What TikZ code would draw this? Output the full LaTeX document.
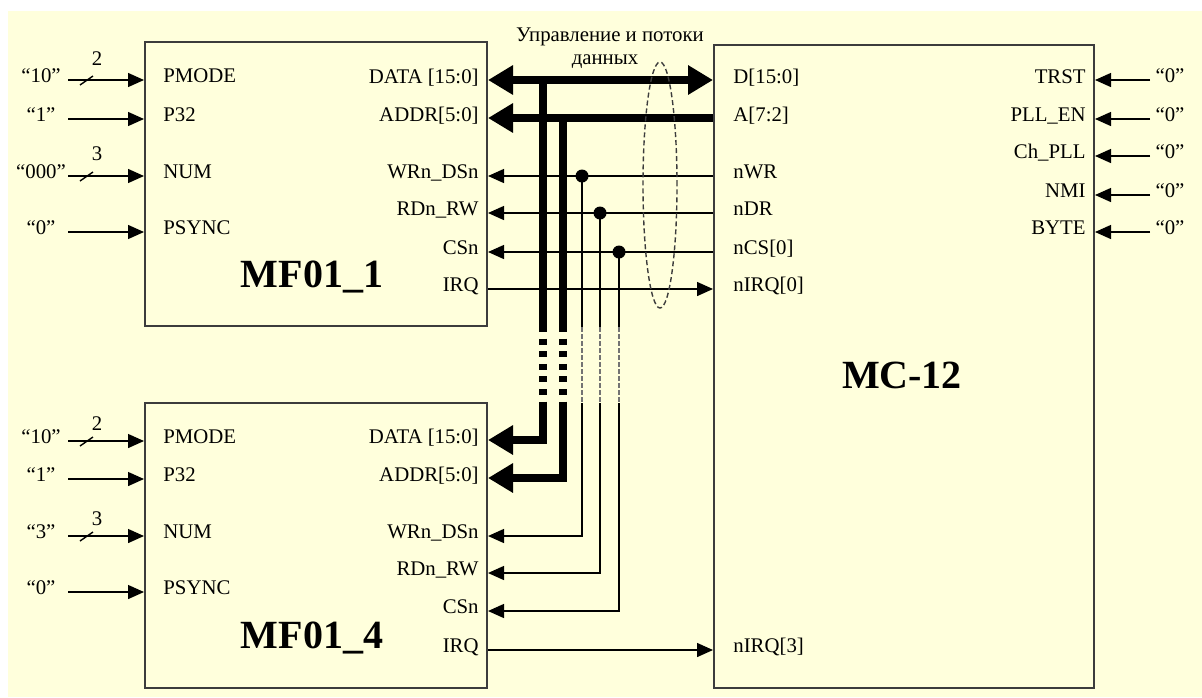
\documentclass[tikz,border=0pt]{standalone}
\usepackage{fontspec}
\setmainfont{Liberation Serif}
\usetikzlibrary{arrows.meta, calc, positioning}
\definecolor{paper}{RGB}{255,255,220}
\definecolor{frame}{RGB}{60,60,60}

\begin{document}
\begin{tikzpicture}[x=0.5pt, y=-0.5pt, font=\fontsize{10.4}{12}\selectfont,
  bigtip/.tip={Triangle[length=12.5pt, width=14pt]},
  smalltip/.tip={Triangle[length=8pt, width=7pt]},
  block/.style={draw=frame, line width=1pt, inner sep=0pt},
  title/.style={font=\fontsize{20}{24}\selectfont\bfseries, anchor=base, inner sep=0pt},
  pinl/.style={anchor=base west, inner sep=0pt},
  pinr/.style={anchor=base east, inner sep=0pt},
  val/.style={anchor=base, inner sep=0pt},
  wire/.style={line width=0.7pt},
  sig/.style={wire, -smalltip},
  bus/.style={line width=4pt},
  gap/.style={dash pattern=on 3pt off 3.3pt, dash phase=3pt},
  thingap/.style={wire, black!55, dash pattern=on 2.5pt off 1pt},
  dot/.style={circle, fill, inner sep=0pt, minimum size=6.5pt}]
  % sheet
  \fill[white] (0,0) rectangle (1202,697);
  \fill[paper] (8,11) rectangle (1202,697);
  \useasboundingbox (0,0) rectangle (1202,697);
  % blocks
  \node[block, minimum width=171pt, minimum height=142pt] (mf1) at (316,184) {};
  \node[block, minimum width=171pt, minimum height=142.5pt] (mf4) at (316,545.5) {};
  \node[block, minimum width=190pt, minimum height=321.5pt] (mc) at (904,366.5) {};
  \node[title] (t1) at (312,287) {MF01\_1};
  \node[title] (t4) at (312,648) {MF01\_4};
  \node[title] (tmc) at (902,388) {MC-12};
  % MF01_1 inputs
  \node[pinl] (a1) at (163,82) {PMODE};
  \node[pinl] (a2) at (163,121) {P32};
  \node[pinl] (a3) at (163,178) {NUM};
  \node[pinl] (a4) at (163,234) {PSYNC};
  \node[val] (va1) at (41,82) {“10”};
  \node[val] (va2) at (41,121) {“1”};
  \node[val] (va3) at (41,178) {“000”};
  \node[val] (va4) at (41,234) {“0”};
  \coordinate (ia1) at (68,80);
  \coordinate (ia2) at (68,119);
  \coordinate (ia3) at (68,176);
  \coordinate (ia4) at (68,232);
  \foreach \i in {ia1,ia2,ia3,ia4}
    \draw[sig] (\i) -- (mf1.west |- \i);
  \draw[wire] (80,85) -- (93,76);
  \draw[wire] (80,181) -- (93,172);
  \node[val] (wa1) at (97,65) {2};
  \node[val] (wa3) at (97,160) {3};
  % MF01_4 inputs
  \node[pinl] (b1) at (163,443) {PMODE};
  \node[pinl] (b2) at (163,481) {P32};
  \node[pinl] (b3) at (163,538) {NUM};
  \node[pinl] (b4) at (163,594) {PSYNC};
  \node[val] (vb1) at (41,443) {“10”};
  \node[val] (vb2) at (41,481) {“1”};
  \node[val] (vb3) at (41,538) {“3”};
  \node[val] (vb4) at (41,594) {“0”};
  \coordinate (ib1) at (68,441);
  \coordinate (ib2) at (68,479);
  \coordinate (ib3) at (68,536);
  \coordinate (ib4) at (68,592);
  \foreach \i in {ib1,ib2,ib3,ib4}
    \draw[sig] (\i) -- (mf4.west |- \i);
  \draw[wire] (80,446) -- (93,437);
  \draw[wire] (80,541) -- (93,532);
  \node[val] (wb1) at (97,430) {2};
  \node[val] (wb3) at (97,525) {3};
  % MF01 outputs
  \node[pinr] (c1) at (479,83) {DATA [15:0]};
  \node[pinr] (c2) at (479,121) {ADDR[5:0]};
  \node[pinr] (c3) at (479,178) {WRn\_DSn};
  \node[pinr] (c4) at (479,215) {RDn\_RW};
  \node[pinr] (c5) at (479,254) {CSn};
  \node[pinr] (c6) at (479,291) {IRQ};
  \node[pinr] (d1) at (479,443) {DATA [15:0]};
  \node[pinr] (d2) at (479,481) {ADDR[5:0]};
  \node[pinr] (d3) at (479,538) {WRn\_DSn};
  \node[pinr] (d4) at (479,575) {RDn\_RW};
  \node[pinr] (d5) at (479,613) {CSn};
  \node[pinr] (d6) at (479,652) {IRQ};
  % MC-12 pins
  \node[pinl] (m1) at (733,83) {D[15:0]};
  \node[pinl] (m2) at (733,121) {A[7:2]};
  \node[pinl] (m3) at (733,178) {nWR};
  \node[pinl] (m4) at (733,215) {nDR};
  \node[pinl] (m5) at (733,254) {nCS[0]};
  \node[pinl] (m6) at (733,291) {nIRQ[0]};
  \node[pinl] (m7) at (733,652) {nIRQ[3]};
  \node[pinr] (r1) at (1086,83) {TRST};
  \node[pinr] (r2) at (1086,121) {PLL\_EN};
  \node[pinr] (r3) at (1086,158) {Ch\_PLL};
  \node[pinr] (r4) at (1086,197) {NMI};
  \node[pinr] (r5) at (1086,234) {BYTE};
  \foreach \y [count=\k] in {80,119,156,195,232} {
    \node[val] (vr\k) at (1170,\y+2) {“0”};
    \coordinate (ir\k) at (1150,\y);
    \draw[sig] (ir\k) -- (mc.east |- ir\k);
  }
  % data and address buses
  \draw[bus, bigtip-bigtip] (mf1.east |- 0,80) -- (mc.west |- 0,80);
  \draw[bus, -bigtip] (mc.west |- 0,118) -- (mf1.east |- 0,118);
  \draw[bus] (543,80) -- (543,332);
  \draw[bus, gap] (543,332) -- (543,403);
  \draw[bus, -bigtip] (543,403) -- (543,440) -- (mf4.east |- 0,440);
  \draw[bus] (563,118) -- (563,332);
  \draw[bus, gap] (563,332) -- (563,403);
  \draw[bus, -bigtip] (563,403) -- (563,478) -- (mf4.east |- 0,478);
  % control lines
  \node[dot] (j1) at (582,176) {};
  \node[dot] (j2) at (600,213) {};
  \node[dot] (j3) at (619,252) {};
  \draw[sig] (mc.west |- j1) -- (mf1.east |- j1);
  \draw[sig] (mc.west |- j2) -- (mf1.east |- j2);
  \draw[sig] (mc.west |- j3) -- (mf1.east |- j3);
  \draw[sig] (mf1.east |- 0,289) -- (mc.west |- 0,289);
  \draw[sig] (mf4.east |- 0,650) -- (mc.west |- 0,650);
  \foreach \j/\y in {j1/536, j2/573, j3/611} {
    \draw[wire] (\j.center) -- (\j |- 0,327);
    \draw[thingap] (\j |- 0,327) -- (\j |- 0,403);
    \draw[sig] (\j |- 0,403) -- (\j |- 0,\y) -- (mf4.east |- 0,\y);
  }
  % group mark
  \draw[frame, line width=0.7pt, dash pattern=on 2.5pt off 1.5pt] (660,185) ellipse [x radius=8.5pt, y radius=61.5pt];
  \node[val] (cap1) at (610,41) {Управление и потоки};
  \node[val] (cap2) at (605,64) {данных};
\end{tikzpicture}
\end{document}
